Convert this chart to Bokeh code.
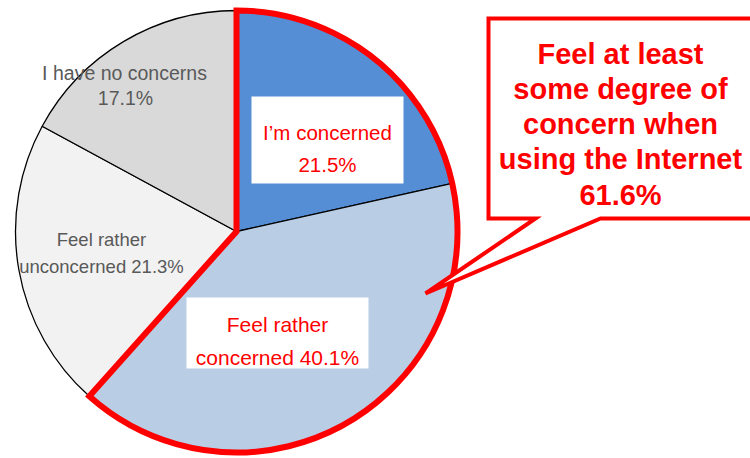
import numpy as np
from bokeh.plotting import figure
from bokeh.models import Range1d
from bokeh.core.properties import value
from bokeh.embed import file_html
from bokeh.resources import INLINE

# ---- data ----
categories = ["I\u2019m concerned", "Feel rather concerned", "Feel rather unconcerned", "I have no concerns"]
shares = [21.5, 40.1, 21.3, 17.1]
colors = ["#558ED5", "#B9CDE5", "#F2F2F2", "#D9D9D9"]
concerned_total = 61.6
callout_lines = ["Feel at least", "some degree of", "concern when", "using the Internet", f"{concerned_total}%"]

W, H = 750, 458
def Y(py):
    return H - py

p = figure(width=W, height=H, x_range=Range1d(0, W), y_range=Range1d(0, H),
           output_backend="svg", toolbar_location=None, min_border=0,
           x_axis_location=None, y_axis_location=None)
p.grid.visible = False
p.outline_line_color = None
p.background_fill_color = "white"
p.border_fill_color = "white"

FONT = value("Liberation Sans")
RED = "#FF0000"

# ---- pie ----
cx, cy, R = 236, Y(231), 221
cum = np.cumsum([0] + shares) / 100.0
start = np.pi / 2 - 2 * np.pi * cum[:-1]
end = np.pi / 2 - 2 * np.pi * cum[1:]
p.wedge(x=cx, y=cy, radius=R, start_angle=start, end_angle=end, direction="clock",
        fill_color=colors, line_color="black", line_width=1.3)

# red outline around the "concerned" group
p.wedge(x=cx, y=cy, radius=R, start_angle=np.pi / 2,
        end_angle=np.pi / 2 - 2 * np.pi * concerned_total / 100.0, direction="clock",
        fill_color=None, line_color=RED, line_width=6, line_join="miter")

# ---- gray labels ----
p.text(x=[124, 125], y=[Y(72), Y(97)],
       text=[categories[3], f"{shares[3]}%"],
       text_font=FONT, text_font_size="19.5px", text_color="#595959",
       text_align="center", text_baseline="alphabetic")
p.text(x=[101, 101], y=[Y(239), Y(266)],
       text=["Feel rather", f"unconcerned {shares[2]}%"],
       text_font=FONT, text_font_size="18.5px", text_color="#595959",
       text_align="center", text_baseline="alphabetic")

# ---- red labels in white boxes ----
p.quad(left=[251, 186], right=[403, 368], top=[Y(96), Y(297)], bottom=[Y(183), Y(368)],
       fill_color="white", line_color=None)
p.text(x=[327, 327], y=[Y(132), Y(164)],
       text=[categories[0], f"{shares[0]}%"],
       text_font=FONT, text_font_size="20.5px", text_color=RED,
       text_align="center", text_baseline="alphabetic")
p.text(x=[277, 277], y=[Y(324), Y(357)],
       text=["Feel rather", f"concerned {shares[1]}%"],
       text_font=FONT, text_font_size="21px", text_color=RED,
       text_align="center", text_baseline="alphabetic")

# ---- callout ----
xs = [488, 760, 760, 600, 425, 535, 488]
ys = [Y(18), Y(18), Y(218), Y(218), Y(293), Y(218), Y(218)]
p.patch(x=xs, y=ys, fill_color="white", line_color=RED, line_width=4, line_join="miter")
p.text(x=[620] * 5, y=[Y(53), Y(88), Y(123), Y(158), Y(194)],
       text=callout_lines,
       text_font=FONT, text_font_size="29px", text_font_style="bold", text_color=RED,
       text_align="center", text_baseline="alphabetic")

open("out.html", "w").write(file_html(p, INLINE))
